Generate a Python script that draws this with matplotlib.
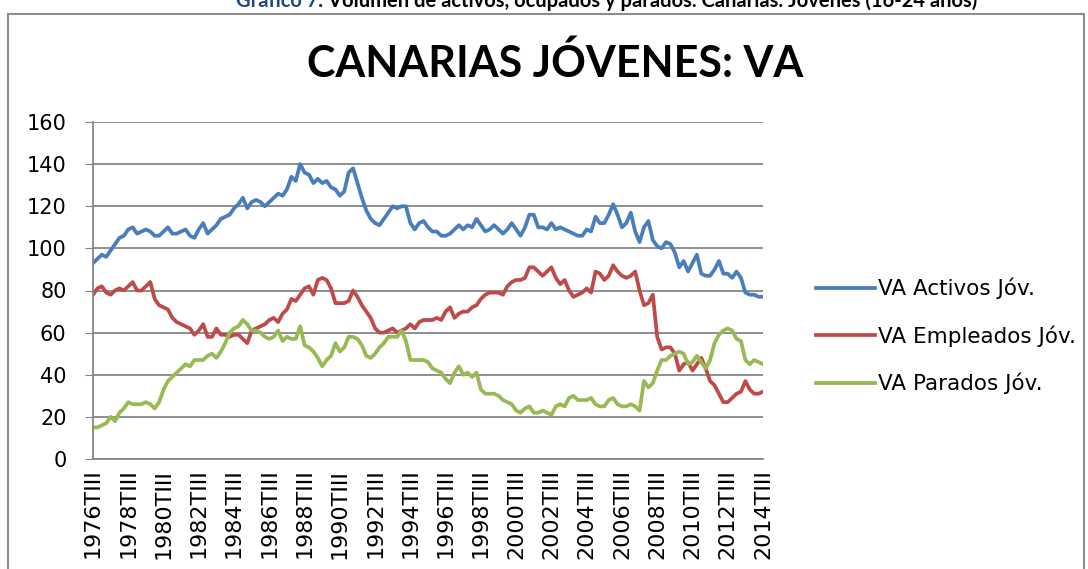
import numpy as np
import matplotlib.pyplot as plt
from matplotlib.patches import Rectangle

# quarterly series, 1976TIII .. 2014TIII
activos = [93, 95, 97, 96, 99, 102, 105, 106, 109, 110, 107, 108, 109, 108, 106, 106,
           108, 110, 107, 107, 108, 109, 106, 105, 109, 112, 107, 109, 111, 114, 115, 116,
           119, 121, 124, 119, 122, 123, 122, 120, 122, 124, 126, 125, 128, 134, 132, 140,
           136, 135, 131, 133, 131, 132, 129, 128, 125, 127, 136, 138, 131, 124, 118, 114,
           112, 111, 114, 117, 120, 119, 120, 120, 112, 109, 112, 113, 110, 108, 108, 106,
           106, 107, 109, 111, 109, 111, 110, 114, 111, 108, 109, 111, 109, 107, 109, 112,
           109, 106, 110, 116, 116, 110, 110, 109, 112, 109, 110, 109, 108, 107, 106, 106,
           109, 108, 115, 112, 112, 116, 121, 116, 110, 112, 117, 108, 103, 110, 113, 104,
           101, 100, 103, 102, 98, 91, 94, 89, 93, 97, 88, 87, 87, 90, 94, 88,
           88, 86, 89, 86, 79, 78, 78, 77, 77]
empleados = [78, 81, 82, 79, 78, 80, 81, 80, 82, 84, 80, 80, 82, 84, 76, 73,
             72, 71, 67, 65, 64, 63, 62, 59, 61, 64, 58, 58, 62, 59, 59, 58,
             59, 59, 57, 55, 61, 62, 63, 64, 66, 67, 65, 69, 71, 76, 75, 78,
             81, 82, 78, 85, 86, 85, 81, 74, 74, 74, 75, 80, 77, 73, 70, 67,
             62, 60, 60, 61, 62, 60, 61, 62, 64, 62, 65, 66, 66, 66, 67, 66,
             70, 72, 67, 69, 70, 70, 72, 73, 76, 78, 79, 79, 79, 78, 82, 84,
             85, 85, 86, 91, 91, 89, 87, 89, 91, 86, 83, 85, 80, 77, 78, 79,
             81, 79, 89, 88, 85, 87, 92, 89, 87, 86, 87, 89, 80, 73, 74, 78,
             58, 52, 53, 53, 50, 42, 45, 46, 42, 45, 48, 43, 37, 35, 31, 27,
             27, 29, 31, 32, 37, 33, 31, 31, 32]
parados = [15, 15, 16, 17, 20, 18, 22, 24, 27, 26, 26, 26, 27, 26, 24, 27,
           33, 37, 39, 41, 43, 45, 44, 47, 47, 47, 49, 50, 48, 51, 55, 60,
           62, 63, 66, 64, 61, 61, 60, 58, 57, 58, 61, 56, 58, 57, 57, 63,
           54, 53, 51, 48, 44, 47, 49, 55, 51, 53, 58, 58, 57, 54, 49, 48,
           50, 53, 55, 58, 58, 58, 61, 56, 47, 47, 47, 47, 46, 43, 42, 41,
           38, 36, 41, 44, 40, 41, 39, 41, 33, 31, 31, 31, 30, 28, 27, 26,
           23, 22, 24, 25, 22, 22, 23, 22, 21, 25, 26, 25, 29, 30, 28, 28,
           28, 29, 26, 25, 25, 28, 29, 26, 25, 25, 26, 25, 23, 37, 34, 36,
           42, 47, 47, 49, 50, 51, 50, 45, 46, 49, 46, 43, 47, 55, 59, 61,
           62, 61, 57, 56, 47, 45, 47, 46, 45]

years = list(range(1976, 2015, 2))
tick_labels = [f"{y}TIII" for y in years]

x = np.arange(len(activos))

fig = plt.figure(figsize=(10.88, 5.69), dpi=100)
fig.patches.append(Rectangle((8 / 1088, -0.1), 1076 / 1088, 1.1 - 14 / 569,
                             transform=fig.transFigure, fill=False,
                             edgecolor='#8c8c8c', lw=1.5))

# header of the document, cut at the top
fig.text(318 / 1088, 1 - 1 / 569, "Gráfico 7", ha='right', va='center',
         fontsize=14.5, fontweight='bold', color='#1F497D', family='Lato')
fig.text(318 / 1088, 1 - 1 / 569,
         ": Volumen de activos, ocupados y parados. Canarias. Jóvenes (16-24 años)",
         ha='left', va='center', fontsize=14.5, fontweight='bold', color='black', family='Lato')

fig.text(555 / 1088, 1 - 63 / 569, "CANARIAS JÓVENES: VA", ha='center', va='center',
         fontsize=31, fontweight='bold', family='Lato')

ax = fig.add_axes([93 / 1088, 1 - 459 / 569, 670 / 1088, 337 / 569])
ax.plot(x, activos, color='#4A7EBB', lw=2.7, label='VA Activos Jóv.')
ax.plot(x, empleados, color='#BE4B48', lw=2.7, label='VA Empleados Jóv.')
ax.plot(x, parados, color='#98B954', lw=2.7, label='VA Parados Jóv.')

ax.set_xlim(0, len(activos) - 1)
ax.set_ylim(0, 160)
ax.set_yticks(range(0, 161, 20))
ax.set_xticks(np.arange(0, len(activos), 8))
ax.set_xticklabels(tick_labels, rotation=90, fontsize=16)
ax.tick_params(axis='y', labelsize=15, length=6, color='#868686', pad=13)
ax.tick_params(axis='x', length=0, pad=7)
ax.grid(axis='y', color='#868686', lw=1.3)
ax.set_axisbelow(True)
for s in ['top', 'right']:
    ax.spines[s].set_visible(False)
for s in ['left', 'bottom']:
    ax.spines[s].set_color('#868686')
    ax.spines[s].set_linewidth(1.3)

ax.legend(loc='center left', bbox_to_anchor=(797 / 1088, 1 - 336 / 569),
          bbox_transform=fig.transFigure, frameon=False, fontsize=15.5,
          handlelength=2.7, handletextpad=0.15, labelspacing=1.2)

fig.savefig('out.png', dpi=100)
